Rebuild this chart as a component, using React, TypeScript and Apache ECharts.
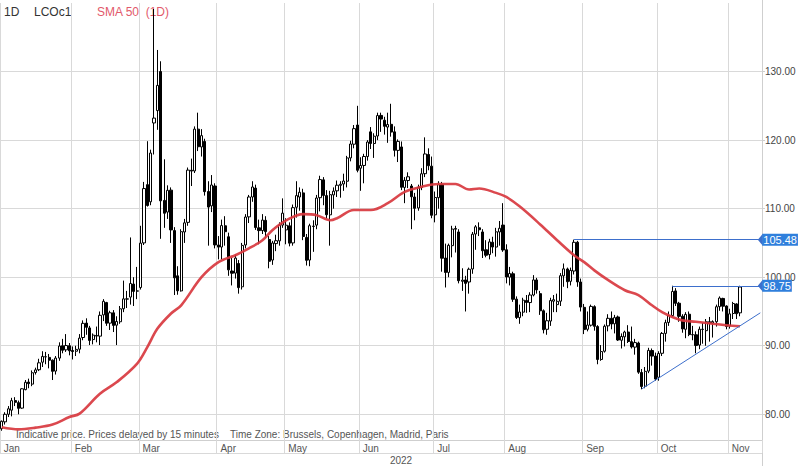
import React, { useEffect, useRef } from "react";
import * as echarts from "echarts";

const monthNames = ["Jan", "Feb", "Mar", "Apr", "May", "Jun", "Jul", "Aug", "Sep", "Oct", "Nov"];

const janDays = [3, 4, 5, 6, 7, 10, 11, 12, 13, 14, 17, 18, 19, 20, 21, 24, 25, 26, 27, 28, 31];
const febDays = [1, 2, 3, 4, 7, 8, 9, 10, 11, 14, 15, 16, 17, 18, 21, 22, 23, 24, 25, 28];
const marDays = [1, 2, 3, 4, 7, 8, 9, 10, 11, 14, 15, 16, 17, 18, 21, 22, 23, 24, 25, 28, 29, 30, 31];
const aprDays = [1, 4, 5, 6, 7, 8, 11, 12, 13, 14, 18, 19, 20, 21, 22, 25, 26, 27, 28, 29];
const mayDays = [2, 3, 4, 5, 6, 9, 10, 11, 12, 13, 16, 17, 18, 19, 20, 23, 24, 25, 26, 27, 30, 31];
const junDays = [1, 2, 3, 6, 7, 8, 9, 10, 13, 14, 15, 16, 17, 20, 21, 22, 23, 24, 27, 28, 29, 30];
const julDays = [1, 4, 5, 6, 7, 8, 11, 12, 13, 14, 15, 18, 19, 20, 21, 22, 25, 26, 27, 28, 29];
const augDays = [1, 2, 3, 4, 5, 8, 9, 10, 11, 12, 15, 16, 17, 18, 19, 22, 23, 24, 25, 26, 29, 30, 31];
const sepDays = [1, 2, 5, 6, 7, 8, 9, 12, 13, 14, 15, 16, 19, 20, 21, 22, 23, 26, 27, 28, 29, 30];
const octDays = [3, 4, 5, 6, 7, 10, 11, 12, 13, 14, 17, 18, 19, 20, 21, 24, 25, 26, 27, 28, 31];
const novDays = [1, 2, 3, 4];

// [open, high, low, close]
const janOHLC = [
  [77.9, 79.1, 77.6, 78.98], [78.9, 80.3, 78.5, 80.0], [80.0, 81.2, 79.6, 80.8], [80.6, 82.4, 79.7, 81.99],
  [82.0, 82.5, 81.2, 81.75], [81.7, 82.0, 80.0, 80.87], [80.9, 83.8, 80.8, 83.72], [83.6, 85.0, 83.5, 84.67],
  [84.7, 85.2, 83.8, 84.47], [84.4, 86.4, 84.1, 86.06], [86.1, 86.8, 85.8, 86.48], [86.5, 88.1, 86.3, 87.51],
  [87.6, 89.2, 86.9, 88.44], [88.4, 89.1, 87.3, 88.38], [88.3, 88.8, 86.7, 87.89], [87.9, 88.0, 85.0, 86.27],
  [86.3, 88.5, 85.8, 88.2], [88.2, 90.5, 87.8, 89.96], [90.0, 91.0, 88.9, 89.34], [89.4, 91.7, 89.1, 90.03],
  [90.0, 90.4, 88.6, 89.26],
];
const febOHLC = [
  [89.3, 89.9, 88.0, 89.16], [89.2, 90.0, 88.5, 89.47], [89.5, 91.7, 88.9, 91.11], [91.2, 93.7, 90.8, 93.27],
  [93.3, 94.0, 91.6, 92.69], [92.6, 92.9, 90.1, 90.78], [90.9, 91.8, 90.2, 91.55], [91.5, 92.8, 90.5, 91.41],
  [91.4, 95.0, 90.1, 94.44], [94.5, 96.8, 93.6, 96.48], [96.3, 96.4, 92.9, 93.28], [93.3, 95.1, 92.3, 94.81],
  [94.8, 95.2, 92.0, 92.97], [93.0, 94.3, 90.1, 93.54], [93.5, 95.8, 93.2, 95.39], [95.4, 99.5, 94.9, 96.84],
  [96.8, 98.0, 95.5, 96.84], [97.1, 105.8, 96.0, 99.08], [99.0, 100.0, 95.8, 97.93], [98.0, 101.5, 96.8, 97.97],
];
const marOHLC = [
  [98.5, 107.5, 98.2, 104.97], [105.0, 113.9, 104.7, 112.93], [113.5, 119.84, 110.3, 110.46], [111.0, 118.6, 110.5, 118.11],
  [122.5, 139.13, 117.9, 123.21], [124.3, 133.15, 121.5, 127.98], [130.0, 131.5, 105.6, 111.14], [111.2, 117.2, 107.2, 109.33],
  [109.5, 113.4, 108.5, 112.67], [112.7, 113.1, 105.0, 106.9], [106.8, 107.3, 97.4, 99.91], [100.2, 101.6, 97.44, 98.02],
  [98.0, 107.0, 97.9, 106.64], [106.6, 108.5, 105.0, 107.93], [108.0, 116.0, 107.5, 115.62], [115.6, 117.3, 113.3, 115.48],
  [115.5, 122.0, 115.2, 121.6], [121.6, 124.0, 118.4, 119.03], [119.0, 121.6, 117.6, 120.65], [119.8, 120.2, 111.9, 112.48],
  [112.5, 114.0, 104.6, 110.23], [110.4, 114.9, 109.5, 113.45], [113.3, 113.7, 104.2, 104.71],
];
const aprOHLC = [
  [104.7, 106.0, 102.6, 104.39], [104.4, 108.4, 102.6, 107.53], [107.5, 108.9, 104.6, 106.64], [105.9, 106.5, 100.2, 101.07],
  [100.9, 102.8, 98.8, 100.58], [100.6, 103.3, 99.8, 102.78], [102.0, 102.5, 97.6, 98.48], [98.6, 105.0, 98.2, 104.64],
  [104.7, 109.2, 104.2, 108.78], [108.8, 112.0, 107.9, 111.7], [111.7, 114.0, 111.0, 113.16], [113.0, 113.5, 106.9, 107.25],
  [107.2, 108.4, 104.8, 106.8], [106.8, 109.2, 106.3, 108.33], [108.3, 108.9, 105.8, 106.65], [105.5, 106.0, 101.3, 102.32],
  [102.5, 105.3, 101.8, 104.99], [104.9, 106.2, 103.8, 105.32], [105.3, 108.0, 104.6, 107.59], [107.6, 111.5, 107.2, 109.34],
];
const mayOHLC = [
  [106.9, 108.6, 104.8, 107.58], [107.5, 108.0, 104.5, 104.97], [105.0, 110.6, 104.6, 110.14], [110.2, 114.0, 108.7, 111.9],
  [111.7, 113.1, 109.7, 112.39], [112.3, 112.9, 105.4, 105.94], [105.8, 106.3, 101.7, 102.46], [102.5, 107.8, 101.6, 107.51],
  [107.4, 108.3, 103.7, 107.45], [107.6, 112.0, 107.0, 111.55], [111.6, 114.8, 109.6, 114.24], [114.2, 114.6, 110.5, 111.93],
  [111.9, 112.7, 108.6, 109.11], [109.1, 112.6, 104.6, 112.04], [112.0, 113.1, 110.0, 112.55], [112.6, 114.1, 111.7, 113.42],
  [113.4, 114.0, 111.6, 113.56], [113.6, 115.1, 112.6, 114.03], [114.0, 117.7, 113.1, 117.4], [117.4, 119.9, 116.9, 119.43],
  [119.4, 122.2, 118.8, 121.67], [122.2, 125.0, 115.3, 115.6],
];
const junOHLC = [
  [115.9, 117.5, 112.6, 116.29], [116.3, 118.0, 113.7, 117.61], [117.6, 120.0, 117.0, 119.72], [121.2, 121.9, 118.7, 119.51],
  [119.5, 121.0, 117.4, 120.57], [120.6, 124.0, 120.0, 123.58], [123.6, 124.0, 121.2, 123.07], [122.9, 123.4, 120.8, 122.01],
  [121.9, 124.0, 119.6, 122.27], [122.3, 125.3, 120.5, 121.17], [121.2, 122.0, 117.6, 118.51], [118.5, 120.1, 116.8, 119.81],
  [119.0, 119.8, 112.7, 113.12], [113.1, 114.6, 110.8, 114.13], [114.1, 115.3, 113.0, 114.65], [113.3, 113.6, 107.0, 111.74],
  [111.7, 112.3, 108.3, 110.05], [110.1, 113.5, 109.7, 113.12], [113.1, 115.9, 112.7, 115.09], [115.1, 120.4, 114.6, 117.98],
  [117.9, 118.8, 115.6, 116.26], [116.2, 117.6, 108.6, 109.03],
];
const julOHLC = [
  [109.1, 112.5, 108.0, 111.63], [111.6, 114.0, 110.0, 113.5], [113.5, 113.9, 100.8, 102.77], [102.8, 104.9, 98.5, 100.69],
  [100.7, 104.9, 100.0, 104.65], [104.6, 107.5, 102.9, 107.02], [107.0, 107.5, 103.6, 107.1], [106.6, 107.0, 99.1, 99.49],
  [99.4, 101.3, 98.0, 99.57], [99.6, 100.2, 95.0, 99.1], [99.3, 101.4, 97.6, 101.16], [101.2, 106.6, 100.5, 106.27],
  [106.3, 107.6, 104.0, 107.35], [107.2, 108.0, 106.0, 106.92], [106.6, 107.0, 102.8, 103.86], [104.0, 105.4, 102.9, 103.2],
  [103.3, 105.6, 102.6, 105.15], [105.1, 105.9, 103.5, 104.4], [104.4, 107.2, 103.0, 106.62], [106.6, 108.2, 104.6, 107.14],
  [107.6, 110.8, 103.7, 103.97],
];
const augOHLC = [
  [104.0, 104.8, 99.1, 100.03], [100.0, 101.5, 98.8, 100.54], [100.5, 100.8, 96.4, 96.78], [96.8, 97.2, 93.9, 94.12],
  [94.1, 96.0, 93.2, 94.92], [94.9, 97.0, 94.3, 96.65], [96.6, 97.4, 94.8, 96.31], [96.3, 97.8, 94.9, 97.4],
  [97.4, 100.3, 97.2, 99.6], [99.6, 99.9, 97.6, 98.15], [97.6, 98.0, 94.5, 95.1], [95.1, 95.3, 91.8, 92.34],
  [92.4, 94.8, 91.6, 93.65], [93.6, 97.0, 92.9, 96.59], [96.5, 97.4, 94.9, 96.72], [96.0, 97.6, 94.9, 96.48],
  [96.5, 100.6, 95.8, 100.22], [100.2, 102.0, 98.6, 101.22], [101.2, 101.4, 98.4, 99.34], [99.4, 101.4, 98.8, 100.99],
  [100.9, 105.48, 100.4, 105.09], [105.1, 105.3, 98.6, 99.31], [99.3, 99.8, 95.0, 95.64],
];
const sepOHLC = [
  [95.6, 96.1, 91.7, 92.36], [92.4, 95.0, 92.1, 93.02], [93.0, 96.0, 92.8, 95.74], [95.7, 95.9, 92.2, 92.83],
  [92.8, 93.0, 87.3, 88.0], [88.0, 90.1, 87.8, 89.15], [89.2, 93.1, 89.0, 92.84], [92.9, 94.6, 92.1, 94.0],
  [94.0, 95.0, 92.4, 93.17], [93.2, 94.5, 91.8, 94.1], [94.2, 94.4, 90.7, 90.84], [90.8, 91.8, 89.6, 91.35],
  [91.3, 92.2, 89.9, 92.0], [92.0, 93.0, 90.4, 90.62], [90.6, 92.8, 89.6, 89.83], [89.8, 91.0, 88.7, 90.46],
  [90.4, 90.6, 85.9, 86.15], [86.1, 86.6, 83.65, 84.06], [84.1, 86.9, 83.8, 86.27], [86.3, 89.7, 86.0, 89.32],
  [89.3, 89.6, 87.1, 88.49], [88.5, 89.0, 84.9, 85.14],
];
const octOHLC = [
  [85.4, 89.2, 84.9, 88.86], [88.9, 92.0, 88.5, 91.8], [91.8, 93.8, 90.6, 93.37], [93.4, 95.0, 92.9, 94.42],
  [94.4, 98.75, 94.2, 97.92], [98.0, 98.4, 95.8, 96.19], [96.2, 96.4, 93.5, 94.29], [94.3, 94.6, 91.9, 92.45],
  [92.4, 94.9, 91.1, 94.57], [94.6, 95.0, 91.4, 91.63], [91.6, 92.9, 90.8, 91.62], [91.6, 92.1, 88.9, 90.03],
  [90.1, 92.8, 89.5, 92.41], [92.4, 93.3, 90.3, 92.38], [92.2, 93.9, 90.0, 93.5], [93.5, 94.2, 90.6, 93.26],
  [93.3, 93.7, 91.2, 93.52], [93.5, 96.0, 92.8, 95.69], [95.7, 97.2, 95.1, 96.96], [96.9, 97.0, 95.0, 95.77],
  [95.8, 95.9, 92.4, 92.81],
];
const novOHLC = [
  [92.9, 95.4, 92.5, 94.65], [94.7, 96.4, 93.9, 96.16], [96.1, 96.2, 93.9, 94.67], [94.8, 98.75, 94.3, 98.57],
];

// SMA 50: [trading-day index, value]
const sma50 = [
  [0, 78.1], [5, 77.8], [10, 78.05], [15, 78.5], [20, 79.6], [23, 80.1], [29, 83.0], [34, 84.7], [40, 87.4],
  [43, 89.8], [46, 92.5], [50, 94.7], [53, 95.9], [59, 100.0], [64, 102.2], [69, 103.2], [73, 104.2], [77, 105.4],
  [80, 106.9], [84, 108.3], [89, 109.2], [93, 109.05], [97, 108.3], [99, 108.6], [104, 109.8], [109, 109.8],
  [114, 110.8], [119, 112.45], [124, 113.2], [129, 113.6], [134, 113.6], [138, 112.8], [141, 112.95], [146, 112.3],
  [149, 111.7], [153, 110.3], [159, 107.7], [164, 105.4], [169, 103.2], [172, 102.2], [175, 101.0], [179, 99.6],
  [184, 98.1], [188, 97.4], [192, 95.9], [195, 94.9], [198, 94.2], [201, 93.7], [205, 93.5], [210, 93.2],
  [214, 93.0], [218, 92.85],
];

const resistanceLines = [
  { from: "2022-08-29", value: 105.48 },
  { from: "2022-10-07", value: 98.75 },
];
const trendFrom = { date: "2022-09-26", value: 83.7 };
const trendToValue = 94.8;
const emptySlots = 6;

const monthDays = [janDays, febDays, marDays, aprDays, mayDays, junDays, julDays, augDays, sepDays, octDays, novDays];
const monthOHLC = [janOHLC, febOHLC, marOHLC, aprOHLC, mayOHLC, junOHLC, julOHLC, augOHLC, sepOHLC, octOHLC, novOHLC];

export default function App() {
  const ref = useRef<HTMLDivElement>(null);

  useEffect(() => {
    if (!ref.current) return;
    const chart = echarts.init(ref.current, undefined, { renderer: "svg" });

    const categories: string[] = [];
    const monthStart: Record<number, string> = {};
    const candles: number[][] = [];
    monthDays.forEach((days, m) => {
      days.forEach((d, i) => {
        if (i === 0) monthStart[categories.length] = monthNames[m];
        categories.push(`2022-${String(m + 1).padStart(2, "0")}-${String(d).padStart(2, "0")}`);
        const [o, h, l, c] = monthOHLC[m][i];
        candles.push([o, c, l, h]);
      });
    });
    for (let i = 0; i < emptySlots; i++) categories.push(`pad-${i}`);
    const lastIdx = categories.length - 1;
    const isMonthStart = (idx: number) => monthStart[idx] !== undefined;

    const font = "Liberation Sans, Arial, sans-serif";
    const gridColor = "#d9d9d9";
    const arrow = "path://M0,0 L10,0 L5,10 Z";

    const markData: any[] = resistanceLines.map((r) => [
      { coord: [categories.indexOf(r.from), r.value], symbol: "none" },
      {
        coord: [lastIdx, r.value],
        symbol: arrow,
        symbolSize: [12, 5],
        label: {
          show: true,
          position: "end",
          distance: 2,
          formatter: r.value.toFixed(2),
          color: "#ffffff",
          backgroundColor: "#2f7fdc",
          padding: [1, 1, 0, 1],
          fontSize: 11,
          fontFamily: font,
        },
      },
    ]);
    markData.push([
      { coord: [categories.indexOf(trendFrom.date), trendFrom.value], symbol: "none" },
      { coord: [lastIdx, trendToValue], symbol: "none", label: { show: false } },
    ]);

    chart.setOption({
      animation: false,
      backgroundColor: "#ffffff",
      grid: { left: -2, right: 38, top: 3, bottom: 26 },
      xAxis: {
        type: "category",
        data: categories,
        boundaryGap: true,
        axisLine: { show: true, lineStyle: { color: "#cfcfcf", width: 1 } },
        axisTick: { show: true, interval: (idx: number) => isMonthStart(idx), length: 13, lineStyle: { color: gridColor } },
        axisLabel: {
          show: true,
          interval: (idx: number) => isMonthStart(idx),
          formatter: (_v: string, idx: number) => monthStart[idx] || "",
          align: "left",
          padding: [0, 0, 0, 2],
          margin: 3,
          fontSize: 10,
          color: "#555555",
          fontFamily: font,
        },
        splitLine: { show: true, interval: (idx: number) => isMonthStart(idx), lineStyle: { color: gridColor, width: 1 } },
      },
      yAxis: {
        type: "value",
        position: "right",
        min: 76.25,
        max: 140,
        splitNumber: 6,
        axisLine: { show: true, lineStyle: { color: "#cfcfcf" } },
        axisTick: { show: true, length: 3, lineStyle: { color: "#cfcfcf" } },
        axisLabel: {
          showMinLabel: false,
          showMaxLabel: false,
          formatter: (v: number) => (v >= 140 ? "" : v.toFixed(2)),
          margin: 3,
          fontSize: 10,
          color: "#444444",
          fontFamily: font,
        },
        splitLine: { show: true, showMinLine: false, showMaxLine: false, lineStyle: { color: gridColor, width: 1 } },
      },
      series: [
        {
          type: "candlestick",
          data: candles,
          barWidth: 2.7,
          z: 2,
          itemStyle: {
            color: "#ffffff",
            color0: "#000000",
            borderColor: "#000000",
            borderColor0: "#000000",
            borderWidth: 1,
          },
          markLine: {
            silent: true,
            symbol: ["none", "none"],
            lineStyle: { color: "#3d6fcc", width: 1, type: "solid" },
            label: { show: false },
            emphasis: { disabled: true },
            data: markData,
          },
        },
        {
          type: "line",
          data: sma50,
          smooth: 0.35,
          showSymbol: false,
          z: 3,
          lineStyle: { color: "#d8383f", width: 2.6, opacity: 0.92 },
        },
      ],
      graphic: [
        { type: "text", x: 4, y: 12, style: { text: "1D", font: `12px ${font}`, fill: "#333333", verticalAlign: "middle" } },
        { type: "text", x: 34, y: 12, style: { text: "LCOc1", font: `12px ${font}`, fill: "#333333", verticalAlign: "middle" } },
        { type: "text", x: 97, y: 12, style: { text: "SMA 50  (1D)", font: `12px ${font}`, fill: "#e2596b", verticalAlign: "middle" } },
        {
          type: "text",
          x: 16,
          y: 434,
          style: { text: "Indicative price. Prices delayed by 15 minutes", font: `10px ${font}`, fill: "#555555", verticalAlign: "middle" },
        },
        {
          type: "text",
          x: 230,
          y: 434,
          style: { text: "Time Zone: Brussels, Copenhagen, Madrid, Paris", font: `10px ${font}`, fill: "#555555", verticalAlign: "middle" },
        },
        { type: "line", shape: { x1: 0, y1: 453.5, x2: 762, y2: 453.5 }, style: { stroke: gridColor, lineWidth: 1 } },
        { type: "line", shape: { x1: 762.5, y1: 0, x2: 762.5, y2: 466 }, style: { stroke: "#cfcfcf", lineWidth: 1 } },
        { type: "text", x: 401, y: 460, style: { text: "2022", font: `10px ${font}`, fill: "#555555", align: "center", verticalAlign: "middle" } },
      ],
    });

    return () => chart.dispose();
  }, []);

  return <div ref={ref} style={{ width: 800, height: 466, position: "absolute", left: 0, top: 0 }} />;
}
